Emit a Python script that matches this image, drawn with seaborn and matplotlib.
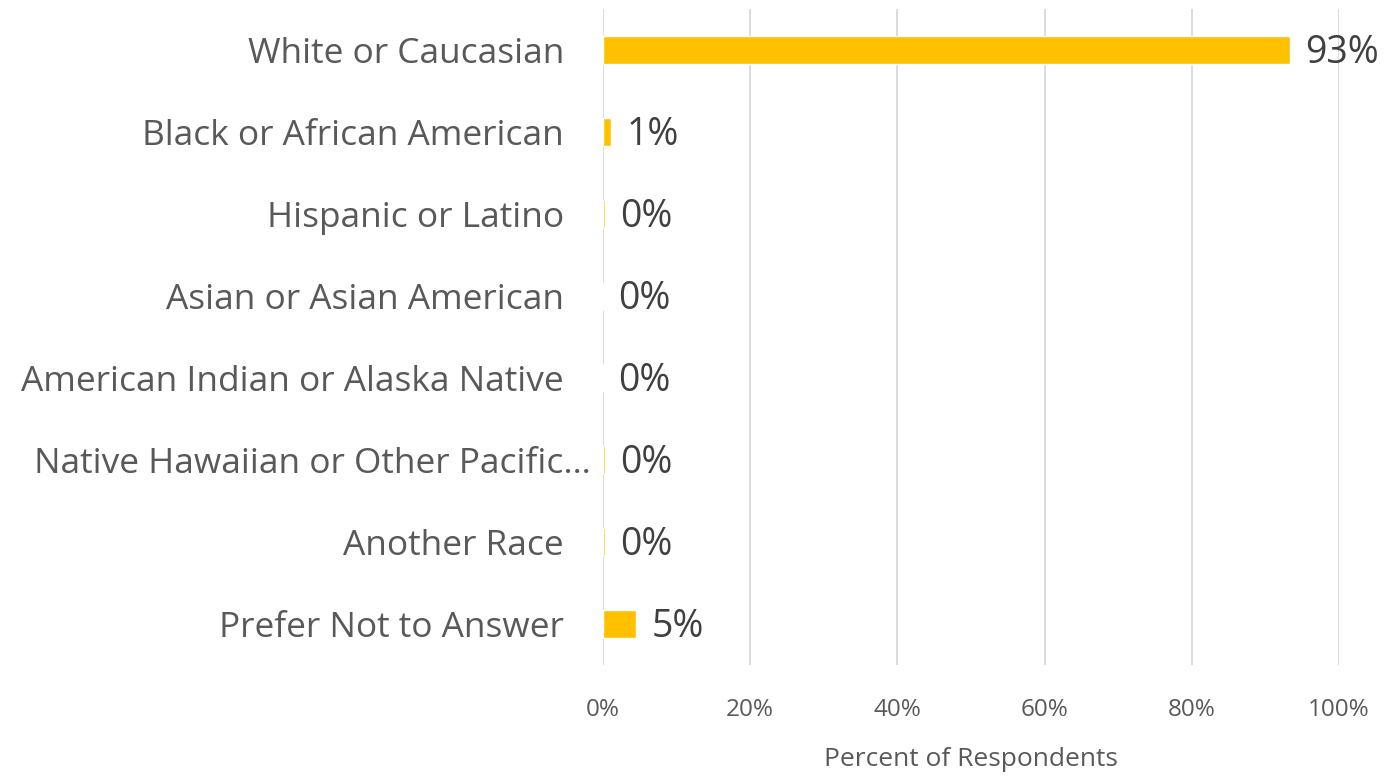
import matplotlib
matplotlib.use("Agg")
import matplotlib.pyplot as plt
import matplotlib.transforms as mtransforms
import seaborn as sns
import pandas as pd

categories = ["White or Caucasian", "Black or African American", "Hispanic or Latino",
              "Asian or Asian American", "American Indian or Alaska Native",
              "Native Hawaiian or Other Pacific…", "Another Race", "Prefer Not to Answer"]
values = [93.3, 1.1, 0.3, 0.0, 0.0, 0.3, 0.3, 4.5]
labels = ["93%", "1%", "0%", "0%", "0%", "0%", "0%", "5%"]
xticks = [0, 20, 40, 60, 80, 100]

df = pd.DataFrame({"cat": categories, "val": values})

sns.set_theme(style="white")
plt.rcParams['font.family'] = ['Open Sans', 'DejaVu Sans']

fig = plt.figure(figsize=(13.89, 7.77), dpi=100)
ax = fig.add_axes([603/1389, 1 - 665/777, (1339-603)/1389, (665-9)/777])

sns.barplot(data=df, x="val", y="cat", color="#FFC000", saturation=1, width=0.34, ax=ax, orient="h")

ax.set_xlim(0, 100)
ax.set_xticks(xticks)
ax.set_xticklabels([f"{t}%" for t in xticks], fontsize=17.5, color="#595959")
ax.set_xlabel("Percent of Respondents", fontsize=19, color="#595959", labelpad=18)
ax.set_ylabel("")
ax.tick_params(axis="y", labelsize=25.4, labelcolor="#595959", pad=28, length=0)
ax.tick_params(axis="x", pad=24, length=0)
ax.grid(axis="x", color="#d9d9d9", linewidth=1.3)
ax.set_axisbelow(True)
for s in ax.spines.values():
    s.set_visible(False)

for lab in ax.get_yticklabels():
    if lab.get_text().startswith("Native Hawaiian"):
        lab.set_transform(lab.get_transform() + mtransforms.ScaledTranslation(27/100, 0, fig.dpi_scale_trans))

for i, (v, t) in enumerate(zip(values, labels)):
    ax.annotate(t, xy=(v, i), xytext=(11, -2), textcoords="offset points",
                ha="left", va="center", fontsize=27, color="#404040")

fig.savefig("out.png", dpi=100)
